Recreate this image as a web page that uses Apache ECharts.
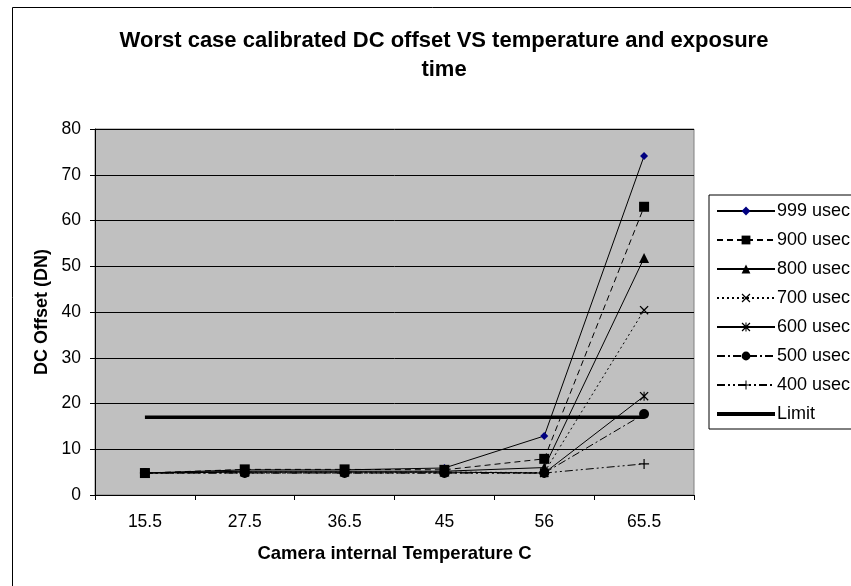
<!DOCTYPE html>
<html>
<head>
<meta charset="utf-8">
<script src="https://cdn.jsdelivr.net/npm/echarts@6/dist/echarts.min.js"></script>
<style>
  html, body { margin: 0; padding: 0; background: #fff; overflow: hidden; }
  #chart { width: 851px; height: 586px; }
</style>
</head>
<body>
<div id="chart"></div>
<script>
// 温度（类目）
const temps = ['15.5', '27.5', '36.5', '45', '56', '65.5'];
// 各曝光时间的 DC offset
const us999 = [4.8, 5.5, 5.5, 5.9, 12.9, 74.1];
const us900 = [4.8, 5.6, 5.6, 5.5, 7.9, 63.0];
const us800 = [4.8, 5.2, 5.2, 5.2, 6.0, 51.8];
const us700 = [4.8, 5.0, 5.0, 5.0, 4.9, 40.4];
const us600 = [4.8, 5.0, 5.0, 5.0, 4.8, 21.6];
const us500 = [4.8, 4.8, 4.8, 4.8, 4.8, 17.7];
const us400 = [4.8, 4.8, 4.8, 4.8, 4.8, 6.8];
const limit = [17, 17, 17, 17, 17, 17];
const yTicks = [0, 10, 20, 30, 40, 50, 60, 70, 80];

// 自定义标记形状
const xMark = 'path://M0,1 L1,0 L5,4 L9,0 L10,1 L6,5 L10,9 L9,10 L5,6 L1,10 L0,9 L4,5 Z';
const plusMark = 'path://M4.4,0 L5.6,0 L5.6,4.4 L10,4.4 L10,5.6 L5.6,5.6 L5.6,10 L4.4,10 L4.4,5.6 L0,5.6 L0,4.4 L4.4,4.4 Z';
const starMark = 'path://M0,1 L1,0 L5,4 L9,0 L10,1 L6,5 L10,9 L9,10 L5,6 L1,10 L0,9 L4,5 Z M4.4,0 L5.6,0 L5.6,10 L4.4,10 Z';

const chart = echarts.init(document.getElementById('chart'));

function mkSeries(name, data, dash, symbol, size, color) {
  return {
    name: name,
    type: 'line',
    data: data,
    symbol: symbol,
    symbolSize: size,
    itemStyle: { color: color || '#000', borderWidth: 0 },
    lineStyle: { color: '#000', width: 1, type: dash },
    emphasis: { disabled: true },
    animation: false
  };
}

const series = [
  mkSeries('999 usec', us999, 'solid', 'diamond', 8, '#000080'),
  mkSeries('900 usec', us900, [6, 4], 'rect', 10),
  mkSeries('800 usec', us800, 'solid', 'triangle', 10),
  mkSeries('700 usec', us700, [2, 3], xMark, 9),
  mkSeries('600 usec', us600, 'solid', starMark, 9),
  mkSeries('500 usec', us500, [8, 3, 2, 3], 'circle', 10),
  mkSeries('400 usec', us400, [8, 3, 2, 3, 2, 3], plusMark, 10)
];
series.push({
  name: 'Limit',
  type: 'line',
  data: limit,
  symbol: 'none',
  lineStyle: { color: '#000', width: 3.5 },
  itemStyle: { color: '#000' },
  emphasis: { disabled: true },
  animation: false
});

// 图例：Limit 只显示粗线
const legendData = series.map(s => s.name === 'Limit'
  ? { name: s.name, itemStyle: { opacity: 0 }, lineStyle: { width: 4, color: '#000' } }
  : { name: s.name });

const option = {
  animation: false,
  textStyle: { fontFamily: 'Liberation Sans, Arial, sans-serif' },
  graphic: [{
    type: 'rect',
    shape: { x: 12.5, y: 7.5, width: 900, height: 700 },
    style: { fill: 'none', stroke: '#000', lineWidth: 1 },
    silent: true,
    z: -10
  }],
  title: {
    text: 'Worst case calibrated DC offset VS temperature and exposure\ntime',
    left: 439,
    top: 21,
    textAlign: 'center',
    textStyle: { fontSize: 22, fontWeight: 'bold', color: '#000', lineHeight: 29 }
  },
  legend: {
    orient: 'vertical',
    left: 709,
    top: 195,
    itemWidth: 58,
    itemHeight: 11,
    itemGap: 9,
    padding: [6, 40, 5, 6],
    borderColor: '#000',
    borderWidth: 1,
    backgroundColor: '#fff',
    textStyle: { fontSize: 18, color: '#000', lineHeight: 20, padding: [0, 0, 0, -3] },
    data: legendData
  },
  grid: {
    left: 95,
    right: 157,
    top: 129,
    bottom: 91,
    show: true,
    backgroundColor: '#c0c0c0',
    borderColor: '#808080',
    borderWidth: 1
  },
  xAxis: {
    type: 'category',
    data: temps,
    boundaryGap: true,
    name: 'Camera internal Temperature C',
    nameLocation: 'middle',
    nameGap: 49,
    nameTextStyle: { fontSize: 18.5, fontWeight: 'bold', color: '#000' },
    axisLine: { lineStyle: { color: '#000', width: 1 } },
    axisTick: { show: true, length: 5, lineStyle: { color: '#000' } },
    axisLabel: { fontSize: 17.5, color: '#000', margin: 18 },
    splitLine: { show: false }
  },
  yAxis: {
    type: 'value',
    min: yTicks[0],
    max: yTicks[yTicks.length - 1],
    interval: 10,
    name: 'DC Offset (DN)',
    nameLocation: 'middle',
    nameGap: 44,
    nameTextStyle: { fontSize: 18, fontWeight: 'bold', color: '#000' },
    axisLine: { show: true, lineStyle: { color: '#000', width: 1 } },
    axisTick: { show: true, length: 5, lineStyle: { color: '#000' } },
    axisLabel: { fontSize: 17.5, color: '#000', margin: 14 },
    splitLine: { show: true, lineStyle: { color: '#000', width: 1 } }
  },
  series: series
};

chart.setOption(option);
</script>
</body>
</html>
